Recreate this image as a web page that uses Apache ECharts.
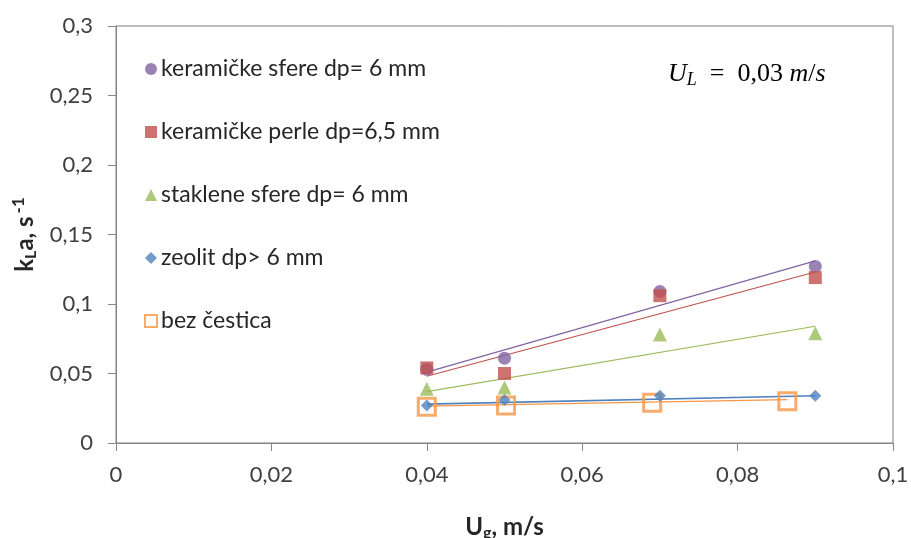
<!DOCTYPE html>
<html>
<head>
<meta charset="utf-8">
<script src="https://cdn.jsdelivr.net/npm/echarts@6/dist/echarts.min.js"></script>
<style>html,body{margin:0;padding:0;background:#fff;}#c{width:911px;height:538px;}</style>
</head>
<body>
<div id="c"></div>
<script>
// Data
var seriesNames = ['keramičke sfere dp= 6 mm', 'keramičke perle dp=6,5 mm', 'staklene sfere dp= 6 mm', 'zeolit dp> 6 mm', 'bez čestica'];
var xKeramSfere = [0.04, 0.05, 0.07, 0.09];
var yKeramSfere = [0.053, 0.061, 0.109, 0.127];
var xKeramPerle = [0.04, 0.05, 0.07, 0.09];
var yKeramPerle = [0.054, 0.050, 0.106, 0.119];
var xStaklo = [0.04, 0.05, 0.07, 0.09];
var yStaklo = [0.039, 0.040, 0.078, 0.079];
var xZeolit = [0.04, 0.05, 0.07, 0.09];
var yZeolit = [0.027, 0.031, 0.034, 0.034];
var xBez = [0.04, 0.0502, 0.069, 0.0864];
var yBez = [0.026, 0.027, 0.029, 0.030];
// trendline end points
var trendKeramSfereX = [0.04, 0.09], trendKeramSfereY = [0.051, 0.131];
var trendKeramPerleX = [0.04, 0.09], trendKeramPerleY = [0.048, 0.123];
var trendStakloX = [0.04, 0.09], trendStakloY = [0.037, 0.084];
var trendZeolitX = [0.04, 0.09], trendZeolitY = [0.028, 0.034];
var trendBezX = [0.04, 0.0864], trendBezY = [0.0265, 0.0312];

function pts(xs, ys) { return xs.map(function (x, i) { return [x, ys[i]]; }); }
var colors = ['#8064A2', '#C0504D', '#9BBB59', '#4F81BD', '#F79646'];
var fontFam = 'Lato, "Open Sans", sans-serif';
var serif = '"Liberation Serif", "DejaVu Serif", serif';

function fmt(v) { return String(+v.toFixed(3)).replace('.', ','); }

var scatters = [
  {name: seriesNames[0], data: pts(xKeramSfere, yKeramSfere), symbol: 'circle', symbolSize: 13},
  {name: seriesNames[1], data: pts(xKeramPerle, yKeramPerle), symbol: 'rect', symbolSize: 13},
  {name: seriesNames[2], data: pts(xStaklo, yStaklo), symbol: 'triangle', symbolSize: 14},
  {name: seriesNames[3], data: pts(xZeolit, yZeolit), symbol: 'diamond', symbolSize: 12},
  {name: seriesNames[4], data: pts(xBez, yBez), symbol: 'rect', symbolSize: 17, hollow: true}
];
var trends = [
  pts(trendKeramSfereX, trendKeramSfereY),
  pts(trendKeramPerleX, trendKeramPerleY),
  pts(trendStakloX, trendStakloY),
  pts(trendZeolitX, trendZeolitY),
  pts(trendBezX, trendBezY)
];

var series = [];
trends.forEach(function (t, i) {
  series.push({type: 'line', data: t, symbol: 'none', silent: true, z: 1,
    lineStyle: {color: colors[i], width: i === 3 ? 1.6 : 1.2}});
});
scatters.forEach(function (s, i) {
  series.push({type: 'scatter', name: s.name, data: s.data, symbol: s.symbol, symbolSize: s.symbolSize, z: 3 + (i === 4 ? 0 : 1),
    itemStyle: s.hollow ? {color: 'rgba(255,255,255,0)', borderColor: colors[i], borderWidth: 3} : {color: colors[i]}});
});

var chart = echarts.init(document.getElementById('c'));
chart.setOption({
  animation: false,
  backgroundColor: '#fff',
  grid: {left: 116, right: 18, top: 26, bottom: 95, show: true, borderColor: '#7f7f7f', borderWidth: 1,
    containLabel: false, outerBoundsMode: 'none'},
  legend: {
    orient: 'vertical', left: 139, top: 52, itemGap: 39, itemWidth: 12, itemHeight: 12,
    textStyle: {fontFamily: fontFam, fontSize: 23, lineHeight: 24, color: '#262626', padding: [0, 0, 0, -1]},
    data: [
      {name: seriesNames[0], icon: 'circle'},
      {name: seriesNames[1], icon: 'rect'},
      {name: seriesNames[2], icon: 'triangle'},
      {name: seriesNames[3], icon: 'diamond'},
      {name: seriesNames[4], icon: 'rect', itemStyle: {color: 'rgba(255,255,255,0)', borderColor: colors[4], borderWidth: 2}}
    ]
  },
  xAxis: {
    type: 'value', min: 0, max: 0.1, interval: 0.02,
    axisLine: {lineStyle: {color: '#868686'}},
    axisTick: {show: true, length: 8, lineStyle: {color: '#868686'}},
    splitLine: {show: false},
    axisLabel: {fontFamily: fontFam, fontSize: 22, color: '#404040', margin: 21,
      formatter: function (v) { return fmt(v); }},
    name: '{b|U}{s|g}{b|, m/s}', nameLocation: 'middle', nameGap: 70,
    nameTextStyle: {rich: {
      b: {fontFamily: fontFam, fontSize: 24, fontWeight: 'bold', color: '#262626'},
      s: {fontFamily: fontFam, fontSize: 16, fontWeight: 'bold', color: '#262626', padding: [12, 0, 0, 0]}
    }}
  },
  yAxis: {
    type: 'value', min: 0, max: 0.3, interval: 0.05,
    axisLine: {show: true, lineStyle: {color: '#868686'}},
    axisTick: {show: true, length: 8, lineStyle: {color: '#868686'}},
    splitLine: {show: false},
    axisLabel: {fontFamily: fontFam, fontSize: 22, color: '#404040', margin: 23,
      formatter: function (v) { return fmt(v); }},
    name: '{b|k}{s|L}{b|a, s}{p|-1}', nameLocation: 'middle', nameGap: 76, nameRotate: 90,
    nameTextStyle: {rich: {
      b: {fontFamily: fontFam, fontSize: 24, fontWeight: 'bold', color: '#262626'},
      s: {fontFamily: fontFam, fontSize: 16, fontWeight: 'bold', color: '#262626', padding: [12, 0, 0, 0]},
      p: {fontFamily: fontFam, fontSize: 17, fontWeight: 'bold', color: '#262626', padding: [0, 0, 12, 3]}
    }}
  },
  graphic: [{
    type: 'text', left: 668, top: 61, z: 10,
    style: {
      text: '{i|U}{s|L}{n|  =  0,03 }{i|m}{n|/}{i|s}',
      rich: {
        i: {fontFamily: serif, fontStyle: 'italic', fontSize: 26, fill: '#000'},
        s: {fontFamily: serif, fontStyle: 'italic', fontSize: 18, fill: '#000', padding: [12, 0, 0, 0]},
        n: {fontFamily: serif, fontSize: 26, fill: '#000'}
      }
    }
  }],
  series: series
});
</script>
</body>
</html>
